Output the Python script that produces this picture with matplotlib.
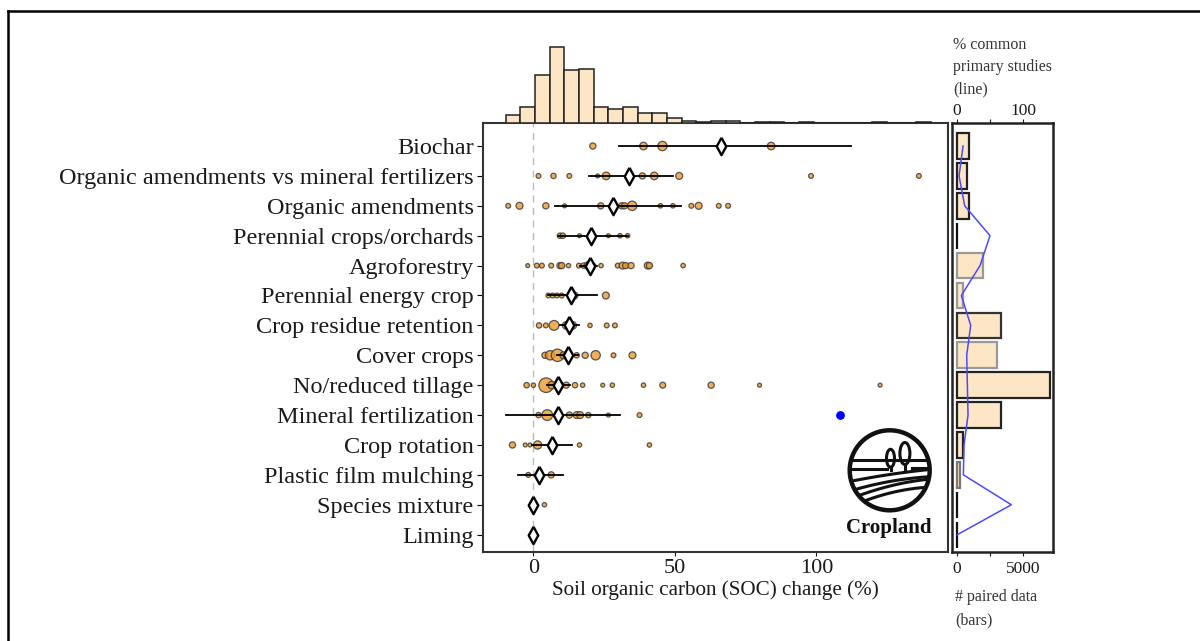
import numpy as np
import matplotlib.pyplot as plt
from matplotlib.patches import Circle, Ellipse
from matplotlib.lines import Line2D

plt.rcParams['font.family'] = ['Liberation Serif', 'DejaVu Serif']

# practices, top to bottom
practices = ['Biochar', 'Organic amendments vs mineral fertilizers', 'Organic amendments',
             'Perennial crops/orchards', 'Agroforestry', 'Perennial energy crop',
             'Crop residue retention', 'Cover crops', 'No/reduced tillage',
             'Mineral fertilization', 'Crop rotation', 'Plastic film mulching',
             'Species mixture', 'Liming']

# mean effect and confidence interval (% SOC change)
mean_eff = [66.4, 33.8, 28.0, 20.4, 20.0, 13.3, 12.7, 12.1, 8.8, 8.8, 6.5, 2.1, 0.0, -0.2]
ci_low = [30.3, 19.7, 7.8, 8.6, 16.5, 5.3, 9.4, 8.5, 4.7, -9.6, -0.5, -5.3, -1.0, -0.8]
ci_high = [112.3, 49.2, 52.2, 33.3, 22.4, 22.4, 16.1, 15.7, 13.0, 30.6, 13.8, 10.4, 1.0, 0.4]

# individual meta-analysis estimates and their weights (marker area)
meta_vals = [
    [21.0, 38.9, 45.6, 84.0],
    [1.8, 7.1, 12.7, 22.7, 25.7, 38.5, 42.7, 51.5, 98.1, 136.2],
    [-8.9, -4.9, 4.4, 11.0, 23.8, 31.2, 32.2, 34.9, 44.9, 49.3, 55.8, 58.4, 65.5, 68.8],
    [9.4, 10.4, 16.3, 26.5, 30.6, 33.3],
    [-2.0, 1.2, 3.0, 6.3, 9.4, 10.0, 12.4, 16.1, 17.7, 19.2, 20.0, 21.2, 23.9, 29.8,
     31.5, 32.6, 34.5, 40.4, 41.0, 52.9],
    [5.3, 6.8, 8.3, 10.0, 14.5, 25.6],
    [2.0, 4.4, 7.3, 11.6, 12.7, 13.9, 20.0, 25.9, 28.8],
    [4.1, 5.9, 8.5, 10.6, 12.4, 15.3, 18.3, 22.0, 28.3, 35.0],
    [-2.4, 0.0, 4.5, 6.5, 9.4, 11.6, 14.7, 17.4, 24.5, 27.9, 38.9, 45.7, 62.8, 79.9, 122.5],
    [1.8, 4.9, 8.8, 12.7, 15.3, 16.5, 19.4, 26.5, 37.5],
    [-7.4, -2.9, -1.2, 1.5, 16.3, 41.0],
    [-1.8, 6.3],
    [0.0, 3.9],
    [0.0],
]
meta_w = [
    [20, 30, 45, 30],
    [12, 15, 12, 8, 30, 20, 30, 25, 12, 12],
    [12, 25, 20, 8, 20, 20, 20, 45, 10, 10, 12, 25, 12, 12],
    [15, 15, 8, 8, 10, 10],
    [8, 12, 12, 12, 20, 20, 10, 12, 15, 30, 35, 12, 10, 12, 25, 20, 20, 25, 20, 10],
    [12, 12, 12, 12, 25, 25],
    [15, 12, 50, 30, 35, 30, 10, 12, 12],
    [20, 45, 80, 25, 20, 15, 20, 45, 12, 25],
    [15, 10, 110, 30, 25, 20, 15, 10, 8, 10, 10, 18, 20, 8, 8],
    [15, 60, 20, 20, 25, 25, 15, 8, 12],
    [20, 8, 8, 35, 10, 10],
    [12, 20],
    [25, 10],
    [20],
]
# single highlighted estimate (mineral fertilization)
blue_row = 9
blue_val = 108.3

# number of paired data and % common primary studies
n_paired = [950, 750, 950, 40, 2000, 450, 3300, 3000, 6975, 3300, 450, 250, 40, 40]
pct_common = [9.5, 3.5, 12, 50, 35, 7, 21, 15, 16, 17, 11, 10, 82, 1]
bar_edges = ['#222222', '#222222', '#222222', '#111111', '#999999', '#999999', '#333333',
             '#999999', '#222222', '#222222', '#222222', '#777777', '#111111', '#111111']

# histogram of all estimates
hist_start = -9.8
hist_width = 5.18
hist_counts = [8, 16, 49, 77, 54, 55, 16, 14, 16, 10, 10, 5, 2, 1, 2, 2, 0, 1, 1, 0,
               1, 0, 0, 0, 0, 1, 0, 0, 1]

W, H = 1200, 641
fig = plt.figure(figsize=(W / 100, H / 100), dpi=100)

def fx(px):
    return px / W

def fy(py):
    return 1 - py / H

main_l, main_r, top, bot = 483.3, 948.3, 123.3, 551.7
ax = fig.add_axes([fx(main_l), fy(bot), fx(main_r - main_l), (bot - top) / H])
axh = fig.add_axes([fx(main_l), fy(top), fx(main_r - main_l), 78 / H], sharex=ax)
axr = fig.add_axes([fx(951.7), fy(bot), fx(1053.3 - 951.7), (bot - top) / H])

ypos = np.arange(len(practices))
orange = '#eb9a2e'
diamond = [(0, 1), (0.55, 0), (0, -1), (-0.55, 0), (0, 1)]

ax.axvline(0, color='#bbbbbb', ls=(0, (5, 4)), lw=1, zorder=0)
for i in range(len(practices)):
    ax.scatter(meta_vals[i], [ypos[i]] * len(meta_vals[i]), s=meta_w[i], c=orange,
               alpha=0.8, edgecolors='#333333', linewidths=0.9, zorder=2)
    ax.plot([ci_low[i], ci_high[i]], [ypos[i], ypos[i]], color='black', lw=1.3, zorder=3)
    ax.plot(mean_eff[i], ypos[i], marker=diamond, markersize=12.5, mfc='white',
            mec='black', mew=1.7, ls='none', zorder=4)
ax.scatter([blue_val], [ypos[blue_row]], s=28, c='blue', zorder=5)

ax.set_xlim(-17.7, 146.6)
ax.set_ylim(13.57, -0.76)
ax.set_yticks(ypos)
ax.set_yticklabels(practices, fontsize=17.5, color='#1a1a1a')
ax.set_xticks([0, 50, 100])
ax.tick_params(axis='x', labelsize=16, colors='#1a1a1a', length=3, pad=2)
ax.tick_params(axis='y', length=4, pad=3)
ax.set_xlabel('Soil organic carbon (SOC) change (%)', fontsize=15.2, color='#1a1a1a', labelpad=2)
for s in ax.spines.values():
    s.set_linewidth(1.5)
    s.set_color('#333333')

# top histogram
axh.bar(hist_start + hist_width * np.arange(len(hist_counts)), hist_counts, width=hist_width,
        align='edge', color='#fde6c6', edgecolor='#222222', linewidth=1.1)
axh.set_ylim(0, 78.4)
axh.axis('off')

# right panel: paired data bars + common studies line
axr.barh(ypos, n_paired, height=0.86, color='#fde6c6', edgecolor=bar_edges, linewidth=1.6)
axr.set_ylim(13.57, -0.76)
axr.set_xlim(-375, 7245)
axr.set_yticks([])
axr.set_xticks([0, 2500, 5000])
axr.set_xticklabels(['0', '', '5000'])
axr.tick_params(axis='x', labelsize=12.5, colors='#1a1a1a', length=3)
for s in axr.spines.values():
    s.set_linewidth(1.8)
    s.set_color('#222222')
axt = axr.twiny()
axt.plot(pct_common, ypos, color='#4a4aff', lw=1.1)
axt.set_xlim(-7.5, 144.9)
axt.set_xticks([0, 50, 100])
axt.set_xticklabels(['0', '', '100'])
axt.tick_params(axis='x', labelsize=12.5, colors='#1a1a1a', length=3, pad=0)
for s in axt.spines.values():
    s.set_visible(False)

fig.text(fx(953), fy(37), '% common\nprimary studies\n(line)', ha='left', va='top',
         fontsize=11.5, color='#333333', linespacing=1.5)
fig.text(fx(955), fy(589), '# paired data\n(bars)', ha='left', va='top',
         fontsize=11.5, color='#333333', linespacing=1.6)

# cropland logo
axl = fig.add_axes([fx(889.7 - 45), fy(470.3 + 45), fx(90), 90 / H])
axl.set_xlim(-1.125, 1.125)
axl.set_ylim(-1.125, 1.125)
axl.set_aspect('equal')
axl.axis('off')
ring = Circle((0, 0), 1.0, fill=False, lw=3.2, color='#111111')
axl.add_patch(ring)
clip = Circle((0, 0), 0.97, transform=axl.transData)
lw_logo = 2.2
items = []
items += axl.plot([-1, 1], [0.25, 0.25], color='#111111', lw=lw_logo)
items += axl.plot([-1, -0.08], [0.02, 0.02], color='#111111', lw=lw_logo)
items += axl.plot([0.55, 1], [0.05, 0.05], color='#111111', lw=lw_logo)
axl.add_patch(Ellipse((0.02, 0.3), 0.2, 0.45, fill=True, fc='white', ec='#111111', lw=lw_logo))
axl.add_patch(Ellipse((0.38, 0.42), 0.25, 0.55, fill=True, fc='white', ec='#111111', lw=lw_logo))
axl.plot([0.02, 0.02], [0.08, 0.0], color='#111111', lw=lw_logo)
axl.plot([0.38, 0.38], [0.15, -0.02], color='#111111', lw=lw_logo)
xs = np.linspace(-1, 1, 60)
for a, b, c in [(-0.18, 0.1, 0.05), (-0.42, 0.2, 0.12), (-0.62, 0.3, 0.15), (-0.82, 0.35, 0.2)]:
    items += axl.plot(xs, a + b * (xs + 1) - c * (xs + 1) ** 2 / 2 + 0.1 * xs,
                      color='#111111', lw=lw_logo)
for it in items:
    it.set_clip_path(clip)
fig.text(fx(889), fy(528), 'Cropland', ha='center', va='center', fontsize=15,
         fontweight='bold', color='#111111')

# page frame
fig.add_artist(Line2D([fx(7.5), 1], [fy(11), fy(11)], color='black', lw=1.8))
fig.add_artist(Line2D([fx(7.5), fx(7.5)], [fy(11), 0], color='black', lw=1.8))

fig.savefig('out.png', dpi=100)
